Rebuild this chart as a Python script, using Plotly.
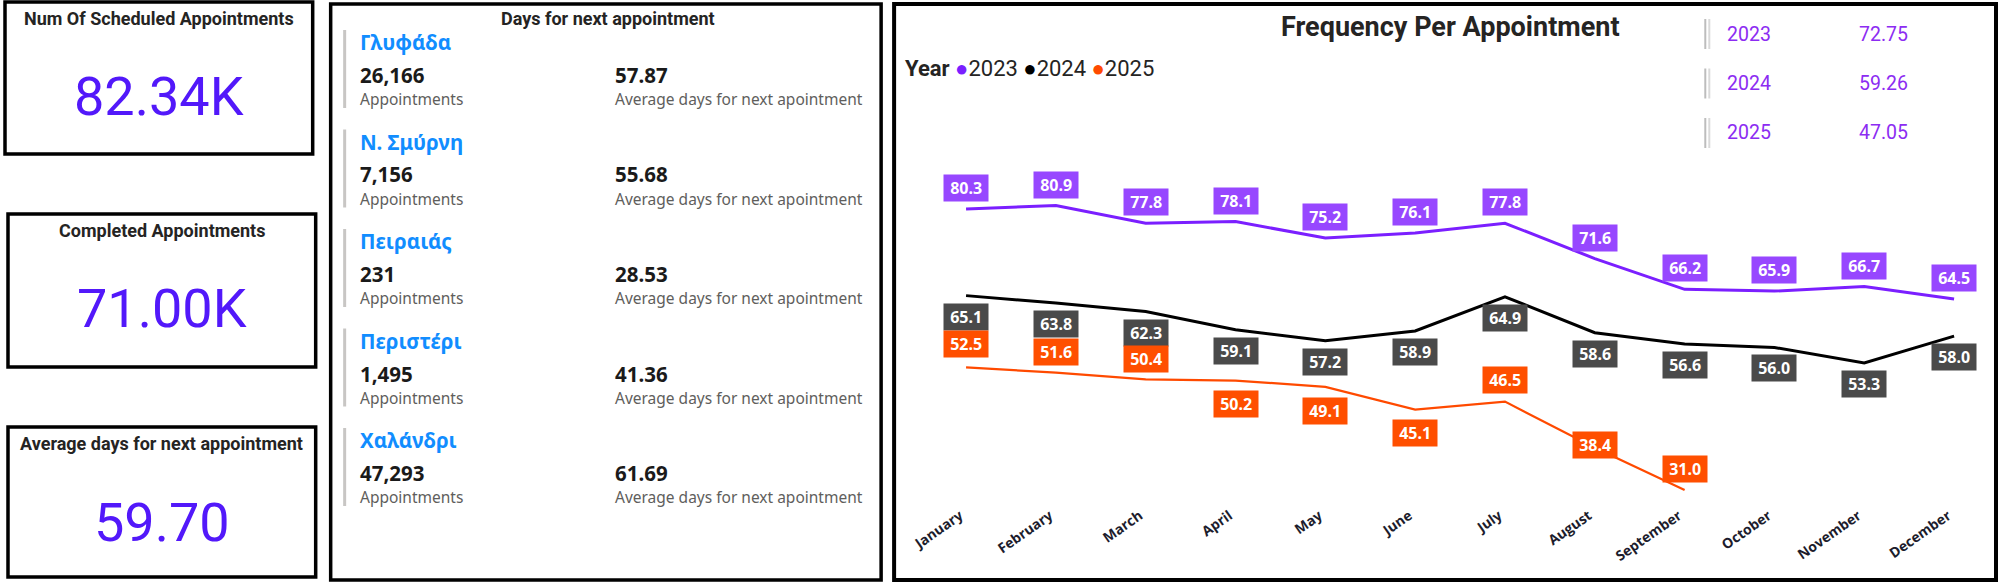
import plotly.graph_objects as go

# ---------------- data ----------------
months = ["January", "February", "March", "April", "May", "June", "July",
          "August", "September", "October", "November", "December"]
years = ["2023", "2024", "2025"]
freq_2023 = [80.3, 80.9, 77.8, 78.1, 75.2, 76.1, 77.8, 71.6, 66.2, 65.9, 66.7, 64.5]
freq_2024 = [65.1, 63.8, 62.3, 59.1, 57.2, 58.9, 64.9, 58.6, 56.6, 56.0, 53.3, 58.0]
freq_2025 = [52.5, 51.6, 50.4, 50.2, 49.1, 45.1, 46.5, 38.4, 31.0]
year_avg = [72.75, 59.26, 47.05]

kpi_titles = ["Num Of Scheduled Appointments", "Completed Appointments",
              "Average days for next appointment"]
kpi_values = ["82.34K", "71.00K", "59.70"]

branches = ["Γλυφάδα", "Ν. Σμύρνη", "Πειραιάς", "Περιστέρι", "Χαλάνδρι"]
branch_appts = [26166, 7156, 231, 1495, 47293]
branch_days = [57.87, 55.68, 28.53, 41.36, 61.69]

# ---------------- styling ----------------
W, H = 2000, 584
def px(x): return x / W
def py(y): return 1 - y / H

series = {"2023": freq_2023, "2024": freq_2024, "2025": freq_2025}
line_col = {"2023": "#7B1FFF", "2024": "#000000", "2025": "#FF4A00"}
line_w = {"2023": 3, "2024": 3, "2025": 2.2}
lab_bg = {"2023": "#9747FF", "2024": "#4A4A4A", "2025": "#FF4F00"}
# label placement (pixels, + = above the point)
lab_shift = {
    "2023": [21] * 12,
    "2024": [-21] * 12,
    "2025": [23, 21, 20, -23, -24, -23, 22, 3, 21],
}

fig = go.Figure()
x_idx = list(range(len(months)))
for yr in years:
    vals = series[yr]
    fig.add_trace(go.Scatter(
        x=x_idx[:len(vals)], y=vals, mode="lines",
        line=dict(color=line_col[yr], width=line_w[yr]),
        showlegend=False, hoverinfo="skip", cliponaxis=False))
    for i, v in enumerate(vals):
        fig.add_annotation(
            x=i, y=v, xref="x", yref="y", showarrow=False,
            text=f"<b>&nbsp;{v:.1f}&nbsp;</b>",
            font=dict(color="white", size=16, family="Noto Sans"),
            bgcolor=lab_bg[yr], borderpad=2, yshift=lab_shift[yr][i])

shapes = []
def rect(x0, y0, x1, y1, w=3, color="black"):
    shapes.append(dict(type="rect", xref="paper", yref="paper",
                       x0=px(x0), x1=px(x1), y0=py(y1), y1=py(y0),
                       line=dict(color=color, width=w), fillcolor="rgba(0,0,0,0)"))
def vline(x, y0, y1, color, w):
    shapes.append(dict(type="line", xref="paper", yref="paper",
                       x0=px(x), x1=px(x), y0=py(y0), y1=py(y1),
                       line=dict(color=color, width=w)))

def text(x, y, s, size, color="#252423", anchor="left", family="Roboto", bold=False):
    fig.add_annotation(x=px(x), y=py(y), xref="paper", yref="paper",
                       text=f"<b>{s}</b>" if bold else s, showarrow=False,
                       xanchor=anchor, yanchor="middle",
                       font=dict(size=size, color=color, family=family))

# KPI cards
card_boxes = [(3, 2, 311, 154), (6, 214, 314, 367), (6, 427, 314, 577)]
for (x0, y0, x1, y1), t, v in zip(card_boxes, kpi_titles, kpi_values):
    rect(x0, y0, x1, y1, w=3.5)
    cx = (x0 + x1) / 2
    text(cx, y0 + 16, t, 18, color="#252423", anchor="center", bold=True)
    text(cx, y0 + 95, v, 54, color="#5218FA", anchor="center")

# Middle panel
rect(329, 4, 880, 580, w=3.5)
text(607, 19, "Days for next appointment", 18, anchor="center", bold=True)
for i, (b, a, d) in enumerate(zip(branches, branch_appts, branch_days)):
    y = 42 + i * 99.5
    vline(343, y - 12, y + 66, "#C8C6C4", 3)
    text(356, y, b, 20.5, color="#118DFF", family="Noto Sans", bold=True)
    text(356, y + 33, f"{a:,}", 20.5, color="#1a1a1a", family="Noto Sans", bold=True)
    text(356, y + 57, "Appointments", 15.5, color="#605E5C", family="Noto Sans")
    text(612, y + 33, f"{d:.2f}", 20.5, color="#1a1a1a", family="Noto Sans", bold=True)
    text(612, y + 57, "Average days for next apointment", 15.5, color="#605E5C", family="Noto Sans")

# Right panel
rect(893, 4, 1996, 580, w=4)
text(1450, 27, "Frequency Per Appointment", 27, anchor="center", bold=True)
legend_txt = ("<b>Year</b> "
              + " ".join(f"<span style='color:{line_col[yr]}'>●</span>{yr}" for yr in years))
text(902, 68, legend_txt, 22, color="#252423")
for i, (yr, avg) in enumerate(zip(years, year_avg)):
    y = 34 + i * 49.5
    vline(1705, y - 15, y + 15, "#BDBDBD", 2)
    vline(1709, y - 15, y + 15, "#DADADA", 2)
    text(1725, y, yr, 19.5, color="#8C2CF2")
    text(1857, y, f"{avg:.2f}", 19.5, color="#8C2CF2")

fig.update_layout(
    width=W, height=H, margin=dict(l=0, r=0, t=0, b=0),
    paper_bgcolor="white", plot_bgcolor="white",
    shapes=shapes, showlegend=False,
    xaxis=dict(domain=[px(910), px(1990)], range=[-0.612, 11.40],
               tickmode="array", tickvals=x_idx, ticktext=[f"<b>{m}</b>" for m in months],
               tickangle=-35, showgrid=False, zeroline=False, showline=False,
               ticks="", ticklabelstandoff=9, ticklabelshift=-6,
               tickfont=dict(size=14, color="#1c1c2c", family="Open Sans")),
    yaxis=dict(domain=[py(495), py(150)], range=[30.12, 90.65], visible=False),
)

fig.write_html("out.html")
